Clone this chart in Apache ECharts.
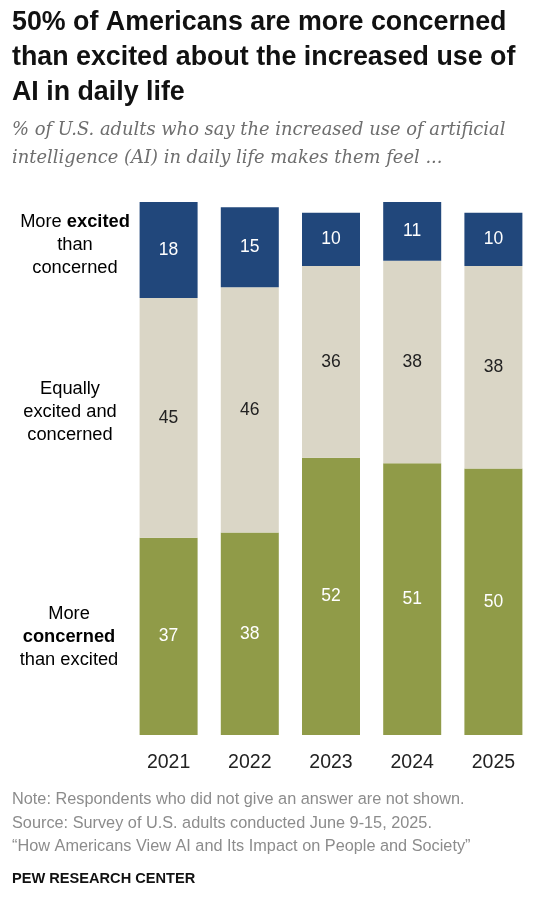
<!DOCTYPE html>
<html>
<head>
<meta charset="utf-8">
<script src="https://cdn.jsdelivr.net/npm/echarts@6/dist/echarts.min.js"></script>
<style>
  html, body { margin: 0; padding: 0; background: #fff; }
  #main { width: 547px; height: 902px; }
</style>
</head>
<body>
<div id="main"></div>
<script>
// data
var years = ['2021', '2022', '2023', '2024', '2025'];
var concerned = [37, 38, 52, 51, 50];
var equally = [45, 46, 36, 38, 38];
var excited = [18, 15, 10, 11, 10];

var NAVY = '#21477b';
var TAN = '#dad6c6';
var OLIVE = '#909b48';
var FONT = '"Liberation Sans", Arial, sans-serif';

var myChart = echarts.init(document.getElementById('main'));

function seg(name, data, color, textColor) {
    return {
        name: name,
        type: 'bar',
        stack: 'all',
        data: data,
        barWidth: 58,
        itemStyle: { color: color },
        label: {
            show: true,
            position: 'inside',
            color: textColor,
            fontFamily: FONT,
            fontSize: 17.5
        },
        emphasis: { disabled: true }
    };
}

var option = {
    animation: false,
    backgroundColor: '#fff',
    title: [
        {
            text: '50% of Americans are more concerned\nthan excited about the increased use of\nAI in daily life',
            left: 12, top: 5, padding: 0,
            textStyle: { fontFamily: FONT, fontSize: 26.8, fontWeight: 'bold', color: '#111', lineHeight: 35 }
        },
        {
            text: '% of U.S. adults who say the increased use of artificial\nintelligence (AI) in daily life makes them feel ...',
            left: 12, top: 116, padding: 0,
            textStyle: { fontFamily: '"DejaVu Serif", Georgia, serif', fontStyle: 'italic', fontWeight: 'normal', fontSize: 17.9, color: '#6e6e6e', lineHeight: 28 }
        },
        {
            text: 'Note: Respondents who did not give an answer are not shown.\nSource: Survey of U.S. adults conducted June 9-15, 2025.\n\u201cHow Americans View AI and Its Impact on People and Society\u201d',
            left: 12, top: 788, padding: 0,
            textStyle: { fontFamily: FONT, fontSize: 16.3, fontWeight: 'normal', color: '#8c8c8c', lineHeight: 23.5 }
        },
        {
            text: 'PEW RESEARCH CENTER',
            left: 12, top: 871, padding: 0,
            textStyle: { fontFamily: FONT, fontSize: 14.6, fontWeight: 'bold', color: '#111' }
        }
    ],
    grid: { left: 128, right: 13, top: 202, bottom: 167 },
    xAxis: {
        type: 'category',
        data: years,
        axisLine: { show: false },
        axisTick: { show: false },
        axisLabel: { color: '#222', fontFamily: FONT, fontSize: 19.5, margin: 18 }
    },
    yAxis: {
        type: 'value',
        min: 0,
        max: 100,
        show: false,
        splitLine: { show: false }
    },
    series: [
        seg('More concerned than excited', concerned, OLIVE, '#fff'),
        seg('Equally excited and concerned', equally, TAN, '#222'),
        seg('More excited than concerned', excited, NAVY, '#fff')
    ]
};

myChart.setOption(option);

// row labels on the left, centred on the 2021 segments
var rows = [
    { text: '{n|More }{b|excited}\n{n|than}\n{n|concerned}', mid: concerned[0] + equally[0] + excited[0] / 2, dy: -5, x: 75 },
    { text: '{n|Equally}\n{n|excited and}\n{n|concerned}', mid: concerned[0] + equally[0] / 2, dy: -6, x: 70 },
    { text: '{n|More}\n{b|concerned}\n{n|than excited}', mid: concerned[0] / 2, dy: 1, x: 69 }
];
var graphics = rows.map(function (r) {
    var y = myChart.convertToPixel({ yAxisIndex: 0 }, r.mid);
    return {
        type: 'text',
        x: r.x,
        y: y + r.dy,
        z: 10,
        style: {
            text: r.text,
            align: 'center',
            verticalAlign: 'middle',
            lineHeight: 23,
            rich: {
                n: { fontFamily: FONT, fontSize: 18.3, color: '#222', lineHeight: 23 },
                b: { fontFamily: FONT, fontSize: 18.3, fontWeight: 'bold', color: '#111', lineHeight: 23 }
            }
        }
    };
});
myChart.setOption({ graphic: graphics });
</script>
</body>
</html>
